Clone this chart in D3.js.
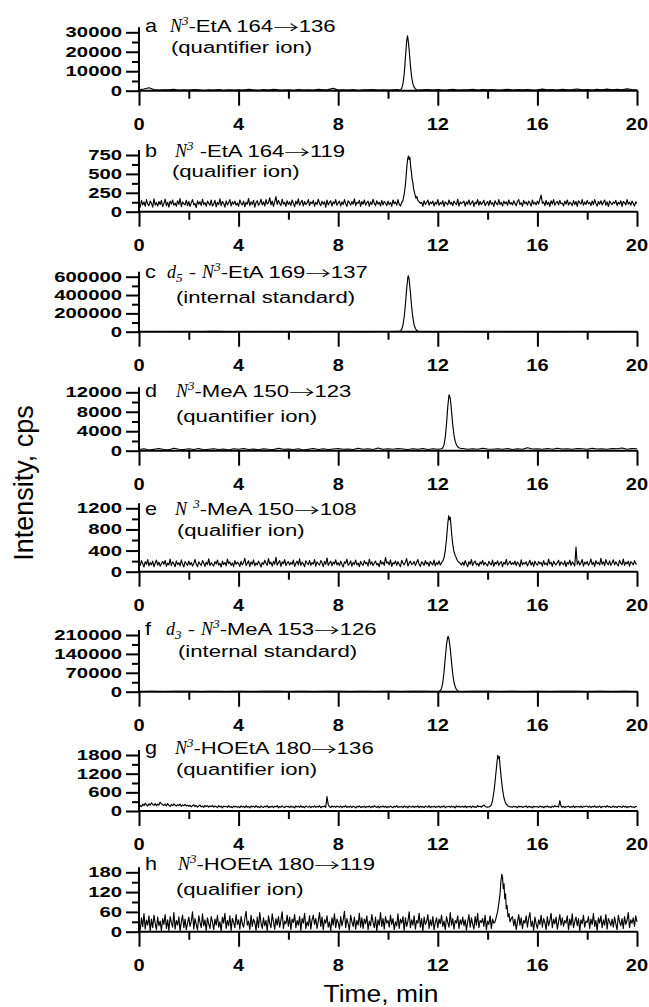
<!DOCTYPE html>
<html>
<head>
<meta charset="utf-8">
<script src="https://cdn.jsdelivr.net/npm/d3@7"></script>
<style>
  body { margin: 0; background: #fff; }
  svg { display: block; }
</style>
</head>
<body>
<svg id="chart" width="649" height="1007"></svg>
<script>
// ---------------- data ----------------
const timeDomain = [0, 20];
const timeTicks = [0, 4, 8, 12, 16, 20];
const timeMinorTicks = [2, 6, 10, 14, 18];

const letters = ["a", "b", "c", "d", "e", "f", "g", "h"];
// *x* = italic, ^x = superscript, _x = subscript
const titles = [
  "*N*^3-EtA 164→136",
  "*N*^3 -EtA 164→119",
  "*d*_5 - *N*^3-EtA 169→137",
  "*N*^3-MeA 150→123",
  "*N* ^3-MeA 150→108",
  "*d*_3 - *N*^3-MeA 153→126",
  "*N*^3-HOEtA 180→136",
  "*N*^3-HOEtA 180→119"
];
const subtitles = [
  "(quantifier ion)", "(qualifier ion)", "(internal standard)",
  "(quantifier ion)", "(qualifier ion)", "(internal standard)",
  "(quantifier ion)", "(qualifier ion)"
];

const ticksA = [0, 10000, 20000, 30000];
const ticksB = [0, 250, 500, 750];
const ticksC = [0, 200000, 400000, 600000];
const ticksD = [0, 4000, 8000, 12000];
const ticksE = [0, 400, 800, 1200];
const ticksF = [0, 70000, 140000, 210000];
const ticksG = [0, 600, 1200, 1800];
const ticksH = [0, 60, 120, 180];

// sampling interval (min) of each baseline record
const stepA = 0.2, stepB = 0.05, stepC = 0.5, stepD = 0.2,
      stepE = 0.05, stepF = 0.5, stepG = 0.05, stepH = 0.05;

// baseline records (cps)
const baseA = [
  400,900,1500,600,300,500,400,700,300,500,
  300,600,400,200,500,350,600,250,450,300,
  500,300,650,400,250,550,350,700,400,300,
  450,250,600,350,500,300,700,400,550,1200,
  300,500,350,600,250,450,400,550,300,500,
  350,450,600,400,500,300,700,400,550,350,
  600,300,450,700,350,500,400,650,300,550,
  400,600,350,500,750,300,550,400,600,350,
  500,800,400,600,350,700,450,550,900,400,
  600,350,700,500,800,400,650,500,950,600,
  500
];
const baseB = [
  120,60,150,90,130,70,160,100,80,140,110,60,170,90,120,75,135,95,150,70,
  110,165,80,125,60,140,100,155,85,115,70,145,95,175,65,130,105,90,150,80,
  135,70,120,160,90,110,55,145,100,130,80,165,95,120,70,140,110,85,155,75,
  100,150,65,125,95,170,80,135,110,60,145,90,120,160,75,130,100,140,85,115,
  70,155,110,90,140,65,125,100,175,80,130,95,150,60,120,145,85,110,165,90,
  130,75,160,100,120,185,90,140,70,130,200,95,150,110,80,165,100,125,70,145,
  95,130,80,155,110,65,140,100,170,85,120,150,75,135,95,115,160,80,130,105,
  150,70,125,95,165,110,80,140,100,130,60,155,90,120,145,75,130,105,160,85,
  115,140,75,130,95,160,105,70,145,120,85,135,100,170,80,125,110,150,70,135,
  100,155,85,120,140,70,130,95,165,110,80,145,100,125,75,150,90,135,115,80,
  140,95,125,70,155,105,130,85,160,100,75,135,120,90,150,110,65,140,100,125,
  90,150,110,135,80,160,100,125,70,145,95,120,155,85,130,105,140,75,125,100,
  160,85,120,100,145,70,130,110,90,155,100,125,80,140,115,95,165,75,130,105,
  120,140,75,130,100,155,90,115,145,70,125,105,160,85,135,95,120,150,80,110,
  135,80,150,100,120,70,145,110,90,160,95,125,75,140,105,130,85,155,100,120,
  90,145,110,80,135,160,95,120,70,150,105,130,85,140,115,75,155,100,125,90,
  140,100,165,220,110,130,80,150,95,125,70,145,100,160,85,120,135,90,150,105,
  115,75,140,100,155,90,125,110,80,150,95,135,70,145,120,100,160,85,130,95,
  150,105,125,80,140,95,160,110,75,135,100,145,90,120,155,85,130,70,140,115,
  95,130,110,150,80,125,100,145,70,135,120,90,160,100,125,85,140,110,75,130,
  110
];
const baseC = [
  2000,1500,2500,1000,2000,1500,3000,1500,2000,1000,
  2500,1500,2000,1000,1500,2500,2000,1500,1000,2000,
  2500,1500,2000,1000,1500,2000,2500,1500,1000,2000,
  1500,2500,2000,1000,1500,2000,2500,1000,1500,2000,
  1500
];
const baseD = [
  250,400,150,300,450,250,200,500,300,250,
  400,250,450,200,300,400,250,350,150,400,
  300,450,250,350,200,400,300,250,500,300,
  350,250,400,150,300,450,250,400,250,350,
  450,300,350,250,500,300,400,250,550,300,
  400,300,450,350,250,400,300,450,250,400,
  300,400,250,350,300,450,300,400,300,500,
  350,300,400,300,450,250,400,300,600,350,
  400,300,450,300,500,350,400,300,450,400,
  300,500,350,400,300,450,400,550,300,450,
  400
];
const baseE = [
  170,120,210,150,90,190,140,230,110,175,130,200,95,160,220,125,180,105,150,195,
  140,215,100,165,130,240,115,185,150,95,205,135,170,110,225,145,90,190,155,120,
  200,130,175,105,160,230,140,95,185,150,120,210,165,100,180,135,245,115,170,140,
  105,190,145,220,125,160,90,200,135,175,110,240,150,185,120,165,95,210,140,180,
  155,100,195,130,170,255,115,160,205,95,185,140,225,110,165,130,200,150,90,175,
  135,215,160,120,250,145,180,105,195,140,270,125,170,210,100,185,150,230,115,165,
  190,125,175,140,220,100,160,200,130,245,115,180,150,95,205,165,135,215,120,170,
  145,230,105,185,150,125,210,170,95,195,140,260,120,165,200,110,180,145,225,130,
  170,115,200,140,90,185,160,235,125,150,205,105,175,140,220,130,165,95,195,150,
  120,210,150,175,105,240,140,185,115,165,200,130,155,95,215,145,180,120,270,160,
  185,130,225,100,170,150,205,120,190,140,95,215,165,130,180,250,110,160,200,135,
  150,195,115,175,230,140,100,185,160,120,210,145,175,105,195,155,130,220,110,170,
  140,205,125,180,100,165,215,130,175,150,120,200,145,185,110,170,135,190,160,125,
  180,120,210,150,95,190,140,230,115,170,200,130,160,105,185,145,215,125,175,140,
  110,195,155,130,220,100,175,145,205,120,165,190,95,180,140,235,125,160,200,135,
  170,140,200,115,185,150,95,225,130,170,145,190,110,160,215,125,180,100,200,150,
  125,190,150,175,105,210,135,165,120,240,145,180,100,195,155,130,170,215,115,185,
  160,130,205,95,175,145,220,120,185,150,110,465,140,200,125,170,230,105,180,145,
  195,120,165,240,135,180,100,210,150,175,125,255,140,190,115,230,160,135,205,120,
  170,225,130,185,145,110,215,160,135,240,120,180,150,200,105,190,165,130,210,150,
  140
];
const baseF = [
  900,1200,700,1000,1300,800,1100,900,1200,700,
  1000,1300,800,1100,900,1200,1000,700,1100,900,
  1200,800,1000,1300,900,1100,700,1200,1000,800,
  1100,900,1300,800,1000,1200,900,1100,700,1000,
  900
];
const baseG = [
  90,180,140,220,170,250,200,160,230,190,260,210,180,240,170,220,190,280,230,200,
  180,220,160,240,190,150,210,170,230,185,160,205,175,225,150,195,170,215,160,190,
  150,185,130,170,200,140,175,120,165,190,135,160,115,180,145,170,125,160,140,175,
  120,165,140,110,175,130,155,100,160,135,150,115,170,125,145,105,160,130,150,120,
  140,105,165,125,150,110,170,120,145,100,160,130,155,115,175,125,140,105,165,130,
  115,155,130,170,105,145,125,160,110,150,135,175,100,145,120,165,130,110,155,140,
  150,110,160,125,140,100,165,130,150,115,170,120,145,105,160,135,125,155,110,145,
  130,165,115,150,125,170,105,145,135,160,120,460,200,140,110,165,130,150,115,160,
  140,120,160,105,150,130,170,115,145,125,160,110,155,135,100,150,125,165,115,140,
  125,155,110,145,130,160,105,150,120,170,135,115,155,100,145,130,160,120,150,110,
  145,120,160,130,105,155,125,170,115,140,130,150,110,165,125,145,100,160,135,120,
  155,115,145,130,165,105,150,125,140,110,160,135,120,170,105,145,130,155,115,140,
  130,160,110,150,125,170,105,140,135,155,115,160,125,145,100,165,130,150,120,140,
  150,120,165,110,145,130,155,105,160,125,140,115,170,135,150,120,160,190,145,130,
  125,150,115,140,130,160,120,145,130,155,125,140,150,135,145,130,155,120,140,135,
  120,155,130,145,105,160,125,150,115,140,135,165,110,150,125,140,100,155,130,145,
  135,115,160,125,150,105,145,130,165,120,140,110,155,125,170,135,150,125,330,160,
  120,150,110,145,135,160,115,140,125,165,105,150,130,145,120,155,110,140,135,160,
  145,120,155,110,150,130,165,115,140,125,160,105,145,135,150,120,170,130,145,115,
  130,160,120,145,110,155,135,140,115,165,125,150,105,145,130,155,120,140,110,150,
  135
];
const baseH = [
  30,5,42,15,55,8,35,20,48,2,38,12,50,25,6,44,18,32,3,40,
  22,52,10,36,4,46,28,14,58,8,34,20,45,2,30,50,12,38,6,26,
  44,16,32,60,8,40,22,5,48,28,12,54,18,36,3,42,24,10,46,30,
  6,38,20,50,14,30,2,44,26,56,10,34,18,48,4,40,28,12,52,22,
  36,8,46,24,14,40,62,20,32,6,50,16,38,28,4,44,12,58,26,10,
  42,18,34,2,48,26,12,54,30,8,40,20,46,14,36,60,10,32,24,50,
  16,44,6,38,28,52,12,34,20,46,4,40,26,56,10,30,18,48,8,36,
  50,22,40,10,32,58,16,44,6,36,26,48,14,30,2,42,20,54,12,38,
  28,8,46,18,36,62,12,40,24,4,50,30,16,44,8,34,20,56,14,42,
  10,38,24,48,6,32,18,52,28,12,44,2,36,20,58,16,40,8,46,26,
  34,14,50,22,40,6,30,18,54,10,38,26,46,4,42,16,32,60,12,36,
  20,48,8,34,26,56,14,40,2,44,22,30,52,10,36,18,46,6,28,42,
  12,38,24,50,16,32,6,46,28,14,58,20,40,8,34,26,48,10,36,22,
  44,18,36,4,30,52,14,42,24,8,46,20,56,12,34,28,40,16,50,6,
  32,22,48,10,38,26,54,14,42,20,36,8,44,28,16,40,24,50,12,34,
  46,18,38,6,30,52,20,42,10,34,26,48,14,40,58,16,32,4,44,24,
  10,36,22,50,14,40,28,6,46,18,34,56,12,38,24,44,8,30,52,20,
  42,16,34,26,48,6,38,20,54,12,30,44,18,40,2,36,24,50,14,32,
  28,46,10,38,22,56,16,34,4,42,26,48,12,36,20,52,8,40,30,18,
  38,14,44,24,6,50,30,18,40,10,46,22,34,58,12,36,26,42,16,48,
  30
];

// eluting peaks: [time (min), intensity (cps)]
const peakA = [[10.45,200],[10.5,400],[10.55,1200],[10.6,3500],[10.65,8500],[10.7,17000],
  [10.75,25500],[10.78,28200],[10.8,27000],[10.85,21000],[10.9,13000],[10.95,7000],
  [11.0,3500],[11.05,1800],[11.1,900],[11.15,500],[11.2,300]];
const peakB = [[10.55,120],[10.6,150],[10.65,230],[10.7,360],[10.73,480],[10.76,610],
  [10.79,700],[10.82,735],[10.85,690],[10.88,720],[10.91,600],[10.94,520],[10.97,430],
  [11.0,380],[11.03,300],[11.06,260],[11.09,220],[11.12,180],[11.16,200],[11.2,150],
  [11.25,130],[11.3,110]];
const peakC = [[10.45,3000],[10.5,8000],[10.55,25000],[10.6,70000],[10.65,160000],
  [10.7,300000],[10.75,470000],[10.8,600000],[10.82,610000],[10.85,570000],[10.9,430000],
  [10.95,270000],[11.0,150000],[11.05,75000],[11.1,35000],[11.15,15000],[11.2,6000],[11.25,2500]];
const peakD = [[12.15,400],[12.2,600],[12.25,1200],[12.3,2800],[12.35,5500],[12.4,9000],
  [12.45,11500],[12.5,10800],[12.55,8200],[12.6,5300],[12.65,3200],[12.7,1900],
  [12.75,1200],[12.8,800],[12.85,600],[12.9,500],[12.95,450]];
const peakE = [[12.15,170],[12.2,200],[12.25,260],[12.3,400],[12.35,620],[12.38,800],
  [12.41,950],[12.44,1060],[12.47,980],[12.5,1030],[12.53,880],[12.56,700],[12.6,520],
  [12.64,400],[12.68,330],[12.72,290],[12.76,240],[12.8,200],[12.85,180]];
const peakF = [[12.05,1500],[12.1,4000],[12.15,12000],[12.2,33000],[12.25,72000],
  [12.3,125000],[12.35,175000],[12.4,203000],[12.42,205000],[12.45,195000],[12.5,160000],
  [12.55,110000],[12.6,65000],[12.65,35000],[12.7,17000],[12.75,8000],[12.8,3500],[12.85,1500]];
const peakG = [[14.05,130],[14.1,150],[14.15,200],[14.2,350],[14.25,600],[14.3,950],
  [14.35,1350],[14.38,1600],[14.41,1790],[14.44,1680],[14.47,1750],[14.5,1450],
  [14.55,1050],[14.6,700],[14.65,450],[14.7,300],[14.75,220],[14.8,170],[14.85,150],[14.9,130]];
const peakH = [[14.3,30],[14.35,45],[14.4,60],[14.45,85],[14.5,115],[14.53,150],[14.57,174],
  [14.6,165],[14.63,130],[14.66,145],[14.69,100],[14.72,115],[14.75,70],[14.78,80],
  [14.82,45],[14.86,55],[14.9,30],[14.95,40]];

// ---------------- layout ----------------
const X0 = 139, X1 = 637;
// y of the zero line and of the top labelled tick; title/subtitle anchors
const frames = [
  {base: 90.7,  top: 32.3,  title: [170, 32],  sub: [171, 53]},
  {base: 211.7, top: 155,   title: [175, 157], sub: [172, 177]},
  {base: 331.7, top: 276.7, title: [167, 278], sub: [176, 303]},
  {base: 450.7, top: 392.3, title: [176, 397], sub: [176, 422]},
  {base: 571.7, top: 508.3, title: [175, 515], sub: [177, 536]},
  {base: 691.7, top: 635,   title: [166, 635], sub: [178, 657]},
  {base: 811,   top: 755,   title: [175, 754], sub: [176, 775]},
  {base: 931.7, top: 872.3, title: [178, 870], sub: [176, 895]}
];

const SANS = '"Liberation Sans", Arial, Helvetica, sans-serif';
const SERIF = '"Liberation Serif", "Times New Roman", serif';
const CJK = '"Noto Sans CJK SC", sans-serif';

const runStyle = {
  it:    {family: SERIF, size: 18, style: "italic", weight: "normal", dy: 0,  sx: 1.0},
  sup:   {family: SERIF, size: 13, style: "italic", weight: "normal", dy: -7, sx: 1.0},
  sub:   {family: SERIF, size: 13, style: "italic", weight: "normal", dy: 4,  sx: 1.0},
  arrow: {family: CJK,   size: 16, style: "normal", weight: "300",    dy: 1,  sx: 1.6},
  plain: {family: SANS,  size: 16, style: "normal", weight: "normal", dy: 0,  sx: 1.38}
};

const svg = d3.select("#chart");
svg.append("rect").attr("width", 649).attr("height", 1007).attr("fill", "#fff");

const x = d3.scaleLinear().domain(timeDomain).range([X0, X1]);

function parseRich(str) {
  const out = [];
  const re = /\*([^*]+)\*|\^(\S)|_(\S)|(→)|([^*^_→]+)/g;
  let m;
  while ((m = re.exec(str))) {
    if (m[1]) out.push({kind: "it", text: m[1]});
    else if (m[2]) out.push({kind: "sup", text: m[2]});
    else if (m[3]) out.push({kind: "sub", text: m[3]});
    else if (m[4]) out.push({kind: "arrow", text: m[4]});
    else out.push({kind: "plain", text: m[5]});
  }
  return out;
}

function drawRich(parent, x0, y0, str) {
  let cx = x0;
  parseRich(str).forEach(seg => {
    const st = runStyle[seg.kind];
    const g = parent.append("g")
      .attr("transform", `translate(${cx},${y0 + st.dy}) scale(${st.sx},1)`);
    const t = g.append("text")
      .attr("font-family", st.family)
      .attr("font-size", st.size)
      .attr("font-style", st.style)
      .attr("font-weight", st.weight)
      .style("white-space", "pre")
      .attr("fill", "#000")
      .text(seg.text);
    cx += t.node().getComputedTextLength() * st.sx;
  });
}

function buildSeries(base, step, peak) {
  const t0 = peak[0][0], t1 = peak[peak.length - 1][0];
  const pts = base.map((v, i) => [Math.round(i * step * 1000) / 1000, v])
    .filter(d => d[0] < t0 || d[0] > t1);
  return pts.concat(peak).sort((a, b) => a[0] - b[0]);
}

const traces = [
  {ticks: ticksA, base: baseA, step: stepA, peak: peakA},
  {ticks: ticksB, base: baseB, step: stepB, peak: peakB},
  {ticks: ticksC, base: baseC, step: stepC, peak: peakC},
  {ticks: ticksD, base: baseD, step: stepD, peak: peakD},
  {ticks: ticksE, base: baseE, step: stepE, peak: peakE},
  {ticks: ticksF, base: baseF, step: stepF, peak: peakF},
  {ticks: ticksG, base: baseG, step: stepG, peak: peakG},
  {ticks: ticksH, base: baseH, step: stepH, peak: peakH}
];

traces.forEach((tr, i) => {
  const fr = frames[i];
  const g = svg.append("g");
  const topVal = tr.ticks[tr.ticks.length - 1];
  const y = d3.scaleLinear().domain([0, topVal]).range([fr.base, fr.top]);
  const minor = tr.ticks.slice(1).map((v, k) => (v + tr.ticks[k]) / 2);

  // trace
  const series = buildSeries(tr.base, tr.step, tr.peak);
  g.append("path")
    .datum(series)
    .attr("fill", "none")
    .attr("stroke", "#000")
    .attr("stroke-width", 1.15)
    .attr("stroke-linejoin", "round")
    .attr("d", d3.line().x(d => x(d[0])).y(d => y(d[1])));

  // y axis
  const yAxis = g.append("g").attr("transform", `translate(${X0},0)`);
  yAxis.call(d3.axisLeft(y).tickValues(tr.ticks).tickSize(13).tickSizeOuter(0).tickFormat(""));
  yAxis.call(a => a.select(".domain").remove());
  const yMinor = g.append("g").attr("transform", `translate(${X0},0)`);
  yMinor.call(d3.axisLeft(y).tickValues(minor).tickSize(7).tickSizeOuter(0).tickFormat(""));
  yMinor.call(a => a.select(".domain").remove());
  g.append("line")
    .attr("x1", X0).attr("x2", X0)
    .attr("y1", fr.base + 1).attr("y2", fr.top - 5)
    .attr("stroke", "#000").attr("stroke-width", 2);

  // y labels
  tr.ticks.forEach(v => {
    g.append("g")
      .attr("transform", `translate(122,${y(v) + 5}) scale(1.45,1)`)
      .append("text")
      .attr("text-anchor", "end")
      .attr("font-family", SANS)
      .attr("font-weight", "bold")
      .attr("font-size", 14)
      .attr("fill", "#000")
      .text(v);
  });

  // x axis
  const xAxis = g.append("g").attr("transform", `translate(0,${fr.base})`);
  xAxis.call(d3.axisBottom(x).tickValues(timeTicks).tickSize(15).tickSizeOuter(0).tickFormat(""));
  const xMinor = g.append("g").attr("transform", `translate(0,${fr.base})`);
  xMinor.call(d3.axisBottom(x).tickValues(timeMinorTicks).tickSize(8).tickSizeOuter(0).tickFormat(""));
  xMinor.call(a => a.select(".domain").remove());
  xAxis.select(".domain").attr("d", `M${X0},0H${X1 + 1}`);

  timeTicks.forEach(v => {
    g.append("g")
      .attr("transform", `translate(${x(v)},${fr.base + 39}) scale(1.25,1)`)
      .append("text")
      .attr("text-anchor", "middle")
      .attr("font-family", SANS)
      .attr("font-weight", "bold")
      .attr("font-size", 16)
      .attr("fill", "#000")
      .text(v);
  });

  g.selectAll(".tick line, .domain").attr("stroke", "#000").attr("stroke-width", 2);

  // panel letter and titles
  g.append("g")
    .attr("transform", `translate(145,${fr.title[1]}) scale(1.2,1)`)
    .append("text")
    .attr("font-family", SANS)
    .attr("font-size", 18)
    .attr("fill", "#000")
    .text(letters[i]);
  drawRich(g, fr.title[0], fr.title[1], titles[i]);
  drawRich(g, fr.sub[0], fr.sub[1], subtitles[i]);
});

// axis titles
svg.append("text")
  .attr("transform", "translate(33,483) rotate(-90)")
  .attr("text-anchor", "middle")
  .attr("font-family", SANS)
  .attr("font-size", 27)
  .attr("fill", "#000")
  .text("Intensity, cps");

svg.append("g")
  .attr("transform", "translate(381,1002) scale(1.1,1)")
  .append("text")
  .attr("text-anchor", "middle")
  .attr("font-family", SANS)
  .attr("font-size", 24)
  .attr("fill", "#000")
  .text("Time, min");
</script>
</body>
</html>
